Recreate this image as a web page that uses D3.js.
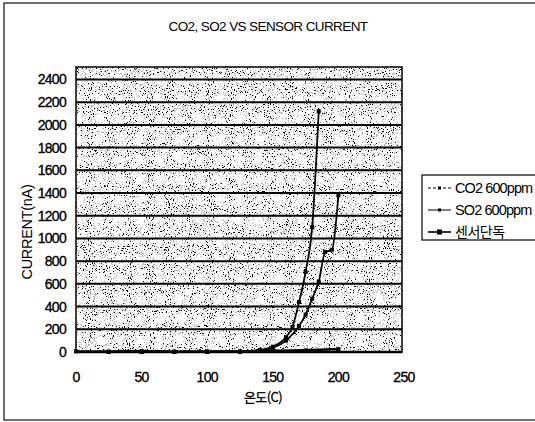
<!DOCTYPE html>
<html>
<head>
<meta charset="utf-8">
<script src="https://cdn.jsdelivr.net/npm/d3@7"></script>
<style>
  body { margin: 0; background: #fff; }
  svg { display: block; }
</style>
</head>
<body>
<svg width="535" height="422"></svg>
<script>
// chart values
var title = "CO2, SO2 VS SENSOR CURRENT";
var xTicks = [0, 50, 100, 150, 200, 250];
var yTicks = [0, 200, 400, 600, 800, 1000, 1200, 1400, 1600, 1800, 2000, 2200, 2400];
var seriesNames = ["CO2 600ppm", "SO2 600ppm", "센서단독"];

var co2Temp = [25, 50, 75, 100, 125, 140, 150, 160, 165, 170, 175, 180, 185];
var co2Cur  = [0, 0, 0, 2, 5, 18, 47, 130, 222, 440, 706, 1100, 2120];

var so2Temp = [25, 50, 75, 100, 125, 140, 150, 160, 170, 175, 180, 185, 190, 195, 200];
var so2Cur  = [0, 0, 0, 0, 2, 10, 35, 100, 230, 330, 470, 620, 880, 900, 1380];

var aloneTemp = [0, 25, 50, 75, 100, 125, 150, 175, 200];
var aloneCur  = [5, 5, 8, 5, 5, 5, 10, 15, 25];

var svg = d3.select("svg");
var labelStyle = "font-family: 'Liberation Sans', Arial; font-size: 14px; letter-spacing: -0.7px; stroke: #000; stroke-width: 0.35px";

// outer frame
svg.append("rect")
  .attr("x", 4).attr("y", 3)
  .attr("width", 540).attr("height", 417)
  .attr("fill", "none").attr("stroke", "#111").attr("stroke-width", 1.2);

// speckled plot background, like the scanned original
var defs = svg.append("defs");
var f = defs.append("filter").attr("id", "speckle")
  .attr("x", 0).attr("y", 0).attr("width", 1).attr("height", 1);
f.append("feTurbulence").attr("type", "fractalNoise")
  .attr("baseFrequency", 0.95).attr("numOctaves", 2).attr("seed", 3).attr("result", "noise");
f.append("feColorMatrix").attr("in", "noise").attr("type", "matrix")
  .attr("values", "0 0 0 0 0  0 0 0 0 0  0 0 0 0 0  1.6 0 0 0 -0.35")
  .attr("result", "a");
var ct = f.append("feComponentTransfer").attr("in", "a").attr("result", "dots");
ct.append("feFuncA").attr("type", "discrete").attr("tableValues", "0 0 0 0 0 0.55 1 1");
f.append("feFlood").attr("flood-color", "#fff").attr("result", "white");
f.append("feComposite").attr("in", "dots").attr("in2", "white").attr("operator", "over");

var x = d3.scaleLinear().domain([0, 250]).range([76, 404]);
var y = d3.scaleLinear().domain([0, 2510]).range([352, 67]);

svg.append("rect")
  .attr("x", 76).attr("y", 67)
  .attr("width", 402 - 76).attr("height", 352 - 67)
  .attr("fill", "#fff")
  .attr("filter", "url(#speckle)");

// horizontal gridlines
svg.append("g")
  .selectAll("line")
  .data(yTicks.filter(function(d) { return d > 0; }))
  .enter()
  .append("line")
  .attr("x1", 76).attr("x2", 402)
  .attr("y1", function(d) { return y(d); })
  .attr("y2", function(d) { return y(d); })
  .attr("stroke", "#000").attr("stroke-width", 2);

// plot border
svg.append("rect")
  .attr("x", 76).attr("y", 67)
  .attr("width", 402 - 76).attr("height", 352 - 67)
  .attr("fill", "none").attr("stroke", "#000").attr("stroke-width", 1.5);
svg.append("line")
  .attr("x1", 76).attr("x2", 402).attr("y1", 352).attr("y2", 352)
  .attr("stroke", "#000").attr("stroke-width", 2.5);

// tick labels
svg.append("g")
  .selectAll("text")
  .data(yTicks)
  .enter()
  .append("text")
  .attr("x", 66)
  .attr("y", function(d) { return y(d) + 5; })
  .attr("text-anchor", "end")
  .attr("style", labelStyle)
  .text(function(d) { return d; });

svg.append("g")
  .selectAll("text")
  .data(xTicks)
  .enter()
  .append("text")
  .attr("x", function(d) { return x(d); })
  .attr("y", 382)
  .attr("text-anchor", "middle")
  .attr("style", labelStyle)
  .text(function(d) { return d; });

// titles
svg.append("text")
  .attr("x", 268).attr("y", 31)
  .attr("text-anchor", "middle")
  .attr("style", "font-family: 'Liberation Sans'; font-size: 13.5px; letter-spacing: -0.6px")
  .text(title);

svg.append("text")
  .attr("transform", "translate(32,232) rotate(-90)")
  .attr("text-anchor", "middle")
  .attr("style", "font-family: 'Liberation Sans', Arial; font-size: 14.5px; letter-spacing: -0.3px")
  .text("CURRENT(nA)");

svg.append("text")
  .attr("x", 263).attr("y", 402)
  .attr("text-anchor", "middle")
  .attr("style", "font-family: 'Noto Sans CJK KR', 'Liberation Sans'; font-size: 13px; letter-spacing: -0.6px; stroke: #000; stroke-width: 0.3px")
  .text("온도(C)");

// series
var line = d3.line()
  .x(function(d) { return x(d[0]); })
  .y(function(d) { return y(d[1]); })
  .curve(d3.curveMonotoneX);

var series = [
  { name: seriesNames[0], pts: d3.zip(co2Temp, co2Cur), width: 1.8, size: 4 },
  { name: seriesNames[1], pts: d3.zip(so2Temp, so2Cur), width: 1.8, size: 4 },
  { name: seriesNames[2], pts: d3.zip(aloneTemp, aloneCur), width: 2.5, size: 4 }
];

series.forEach(function(s) {
  svg.append("path")
    .datum(s.pts)
    .attr("d", line)
    .attr("fill", "none")
    .attr("stroke", "#000")
    .attr("stroke-width", s.width);
  svg.append("g")
    .selectAll("rect")
    .data(s.pts)
    .enter()
    .append("rect")
    .attr("x", function(d) { return x(d[0]) - s.size / 2; })
    .attr("y", function(d) { return y(d[1]) - s.size / 2; })
    .attr("width", s.size).attr("height", s.size)
    .attr("fill", "#000");
});

// legend
var legend = svg.append("g");
legend.append("rect")
  .attr("x", 422).attr("y", 175)
  .attr("width", 130).attr("height", 65)
  .attr("fill", "#fff").attr("stroke", "#000").attr("stroke-width", 1.2);

var legRows = legend.selectAll("g")
  .data(seriesNames)
  .enter()
  .append("g")
  .attr("transform", function(d, i) { return "translate(0," + [188, 210, 232][i] + ")"; });

legRows.append("line")
  .attr("x1", 428).attr("x2", 451).attr("y1", 0).attr("y2", 0)
  .attr("stroke", "#000")
  .attr("stroke-width", function(d, i) { return i == 2 ? 1.6 : 1; })
  .attr("stroke-dasharray", function(d, i) { return i == 0 ? "3,2" : null; });
legRows.append("rect")
  .attr("x", function(d, i) { return i == 2 ? 437 : 438; })
  .attr("y", function(d, i) { return i == 2 ? -2.5 : -1.5; })
  .attr("width", function(d, i) { return i == 2 ? 5 : 3; })
  .attr("height", function(d, i) { return i == 2 ? 5 : 3; })
  .attr("fill", "#000");
legRows.append("text")
  .attr("x", 455).attr("y", 5)
  .attr("style", function(d, i) {
    return i == 2
      ? "font-family: 'Noto Sans CJK KR'; font-size: 14px; letter-spacing: -0.5px"
      : "font-family: 'Liberation Sans', Arial; font-size: 14.5px; letter-spacing: -0.9px";
  })
  .text(function(d) { return d; });
</script>
</body>
</html>
